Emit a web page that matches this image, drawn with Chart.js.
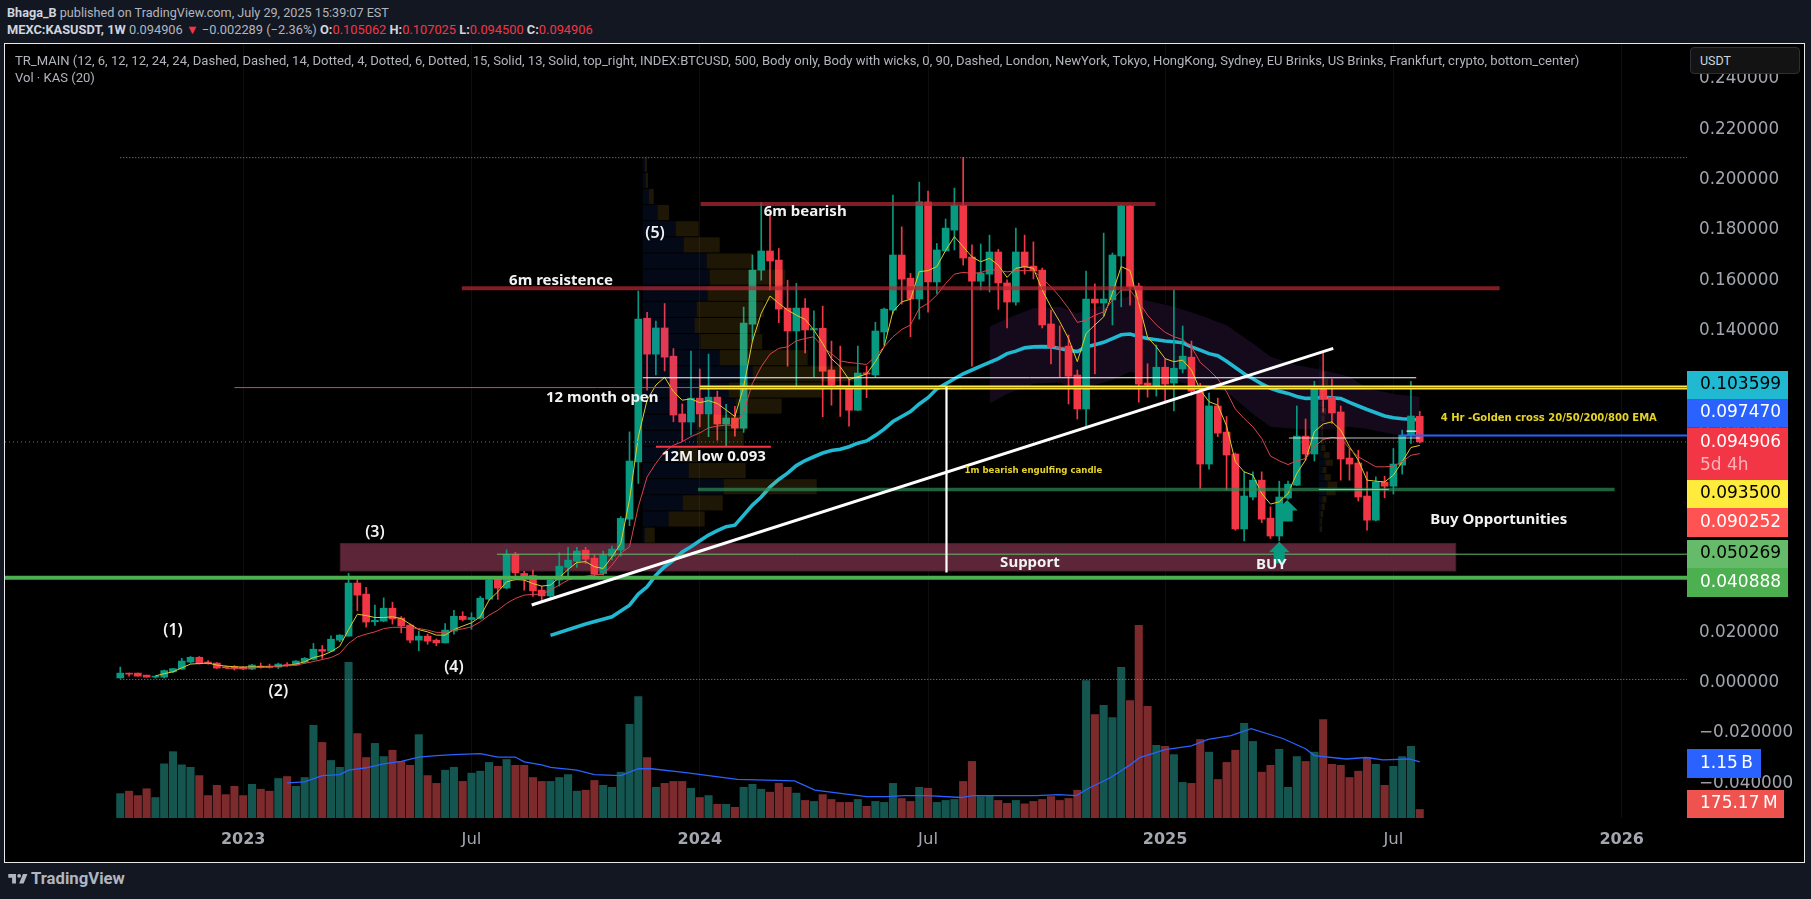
<!DOCTYPE html>
<html><head><meta charset="utf-8"><title>KASUSDT</title>
<script src="https://cdn.jsdelivr.net/npm/chart.js@4/dist/chart.umd.js"></script>
<style>
html,body{margin:0;padding:0;width:1811px;height:899px;overflow:hidden;background:#131722;font-family:Roboto,sans-serif}
#frame{position:absolute;left:4px;top:43px;width:1801px;height:820px;box-sizing:border-box;border:1px solid #e8e8e8;background:#000}
canvas{display:block}
.t{position:absolute;white-space:nowrap;color:#b2b5be;font-size:12.65px;line-height:16px}
.t b{font-weight:700;color:#d1d4dc}.r{color:#f23645}
#logo{position:absolute;left:7px;top:870px}
#brand{position:absolute;left:31px;top:870px;font:700 16.7px/18px Roboto,sans-serif;color:#b2b5be}
#unit{position:absolute;left:1690px;top:47px;width:110px;height:27px;box-sizing:border-box;border:1px solid #2a2e39;border-radius:4px;background:#131313;color:#d1d4dc;font:12.5px/25px Roboto,sans-serif;padding-left:9px}
</style></head><body>
<div id="frame"><canvas id="c" width="1799" height="818"></canvas></div>
<div class="t" style="left:7px;top:5px"><b>Bhaga_B</b> published on TradingView.com, July 29, 2025 15:39:07 EST</div>
<div class="t" style="left:7px;top:22px;font-size:12.83px"><b>MEXC:KASUSDT, 1W</b> 0.094906 <span class="r">▼</span> −0.002289 (−2.36%) <b>O:</b><span class="r">0.105062</span> <b>H:</b><span class="r">0.107025</span> <b>L:</b><span class="r">0.094500</span> <b>C:</b><span class="r">0.094906</span></div>
<div class="t" style="left:15px;top:53px;font-size:13.05px">TR_MAIN (12, 6, 12, 12, 24, 24, Dashed, Dashed, 14, Dotted, 4, Dotted, 6, Dotted, 15, Solid, 13, Solid, top_right, INDEX:BTCUSD, 500, Body only, Body with wicks, 0, 90, Dashed, London, NewYork, Tokyo, HongKong, Sydney, EU Brinks, US Brinks, Frankfurt, crypto, bottom_center)</div>
<div class="t" style="left:15px;top:70px;font-size:13.05px">Vol · KAS (20)</div>
<div id="unit">USDT</div>
<svg id="logo" width="23" height="18" viewBox="0 0 36 28"><path fill="#b2b5be" d="M14 6H2v6h6v9h6V6zm12 15h-7l6-15h7l-6 15zm-7-9a3 3 0 100-6 3 3 0 000 6z"/></svg>
<div id="brand">TradingView</div>
<script>
// Weekly bars, one per index; prices in thousandths of a USDT.
const MILLI = 0.001;
const opens = [1.1,3,3,2.2,1.4,1.4,3.5,4.6,7.4,9.3,7.4,7,5.5,5.6,5.4,4.6,5.8,5.8,5.4,6.4,6.2,7.4,8.5,12.4,11.7,16.1,17.7,38.8,34.4,23.4,23.7,28.8,24.9,22.1,16.1,17.7,16.1,15,19.7,25.6,24.3,24.8,32.4,40.6,36.8,50.2,42.6,41.8,36,33.7,40,45.1,47.5,51.9,48.7,42.6,49.5,51.9,64.2,87,144.1,129.8,140.2,129,106,102.8,112.3,106,112.7,102,104.4,100.4,141.7,163.2,170.8,167.2,148.1,139,148.1,139.4,140.1,123.5,117.2,117.1,107.5,122.4,121.5,138.6,147.3,169.2,160,151.7,190.3,158.5,170.8,179.1,189,168.4,158.8,161.6,170.4,158.1,150.5,170.4,164.8,163.2,141.8,132.6,133,121.5,108,151.7,150.1,151.3,168.8,188.7,156.9,118.3,117.1,124.6,118.3,123.9,128.6,114.7,86.1,109.2,98.8,90.1,60.3,73,79.7,64.6,57.5,72.6,77.7,97.2,90.1,115.9,112.7,106.8,88.5,86.5,73.4,63.8,78.9,77.3,85.7,97.6,105.062];
const highs = [5.4,3,3,2.2,1.8,4.2,4.8,8.9,9.6,9.6,8,7.2,5.8,6,5.6,6.5,7,6.6,7,7.2,8,9.2,14.8,14,17.8,18.3,42.7,40.2,37.1,30,32.9,31.2,25.5,22.5,19.7,18.5,16.6,22.7,28,27.4,27,33.5,41,41,52,51,43.5,44,37.5,41,50.8,53,53,53,50,51.5,53.5,65.2,98.9,154.9,146.4,142.9,149.9,132,110,131,123.9,129.8,115.1,109.8,109.1,148.5,169.2,190,185,171.8,159.2,157.9,151.9,147,148.9,135,133,119.7,133,125,142.5,148.1,193,180.4,161.9,198.2,194.6,173.8,183.5,195.8,208,173.2,173.6,177.1,171.5,159.3,179.9,177.1,174.4,164,147.3,141,137.4,123.5,162.8,157.7,177.9,170,189,189,158,126,133.4,127.8,155.3,141,135,118.2,114.3,112.3,105,90.5,83,83,83,69.1,79.3,79.3,109.2,104,119,130.1,119.9,109.2,92.3,91.6,83,81,81.3,92.3,99.6,119,107.025];
const lows = [0.9,1.8,1.8,1.4,1,1,3.2,4.4,7,6.6,6.6,4.9,5,4.2,4.4,4.4,5,5,4.8,5.7,6,7,8.2,8.8,11.5,15.5,17.7,27.8,21.3,22,23.4,22.5,19,15,11.9,14.5,13.9,15,18.5,23.8,20.4,24.5,32,32.3,36.5,40,36,33.5,31.5,32.5,37.6,41,45,46.5,41,42,48,49.5,61.6,78.4,115.5,121.5,123.1,102.9,95.2,97.6,100.9,97,95.6,93.4,97.2,98.7,135,159.2,155.3,142.3,125,116.8,130.3,120.8,104.9,109.5,105,101.2,107.3,112.5,120.8,133.4,146,149.7,136.7,143.7,146.5,153.9,170.8,171.2,165.2,125,155.3,154.5,147.6,140.2,149.3,161.6,159.7,140.2,125.9,120.8,110,104,101.2,121.9,145,141.4,148.6,149.3,110.7,112.7,113.1,111.2,107.2,122.3,113.5,76.4,84.1,97,75.8,59.8,55.6,71.8,62.8,56.5,55.6,72,77.5,87.7,87.3,106.8,102.3,79.7,79.7,71.4,59.8,63.5,72.7,74.2,82.1,94.3,94.5];
const closes = [3,2.6,1.8,1.4,1.8,4,4.8,7.8,9.3,6.8,6.8,5,5.1,5,4.6,6.2,5.2,5.2,6.6,5.9,7.8,8.9,12.5,11.7,16.5,18.1,38.8,34,23.3,24,28.8,24.5,21.7,16.1,17.7,15.7,15,20.1,25.6,24.3,25.1,32.8,40,36.8,50.2,42.9,41.3,35.7,33.7,40,45.5,47.9,51.5,48.3,42.3,49.9,52.3,64.5,87.3,143.7,129.8,140.2,128.6,105.6,102.8,112.3,106,112.7,102,104.4,100.4,142.1,163.2,170.8,166.8,147.7,139,148.1,139.4,140,123,117.5,116.2,107.5,122.3,121.9,139,147.7,169.2,159.6,151.7,190.3,158.5,171.2,179.9,189,168,158.8,162,170.4,158.1,150.5,170.4,164.4,162.9,141.4,132.6,132.2,121,108,151.7,150.1,151.7,169.2,188.7,156.5,117.9,117.5,124.6,117.9,124.2,129,115.1,86.1,109.2,98.4,89.7,60.3,73.4,79.7,64.2,57.5,73,78.1,97.2,90.1,115.9,111.9,106.4,88.1,86.1,73,63.8,78.9,77.3,86.1,97.6,105.2,94.906];
// Volume in billions of KAS
const volumes = [.5,.55,.46,.6,.42,1.11,1.36,1.09,1.04,.87,.46,.67,.48,.65,.46,.69,.59,.55,.81,.85,.65,.83,1.9,1.55,1.18,1.04,3.19,1.73,1.24,1.53,1.26,1.39,1.16,1.08,1.71,.87,.71,.98,1.04,.75,.92,.96,1.14,1.06,1.2,1.08,1.08,.83,.75,.75,.83,.89,.55,.57,.77,.67,.63,.94,1.92,2.49,1.24,.63,.71,.75,.75,.61,.42,.46,.28,.28,.22,.63,.69,.59,.53,.71,.63,.51,.36,.34,.48,.38,.32,.32,.38,.24,.34,.32,.71,.4,.34,.63,.61,.32,.36,.38,.75,1.16,.44,.46,.36,.3,.36,.29,.34,.38,.44,.36,.4,.57,2.82,2.12,2.31,2.06,3.09,2.41,3.95,2.29,1.49,1.47,1.3,.73,.71,1.61,1.35,.79,1.14,1.39,1.94,1.57,.94,1.08,1.41,.63,1.26,1.16,1.35,2.02,1.1,1.08,.83,.96,1.24,1.1,.67,1.06,1.26,1.47,.175];
const volMaIdx = [19,21,23,25,26,28,30,32,34,36,38,41,43,45,46,48,49,52,54,57,59,60.5,64.4,70.3,76.8,79.1,85,87.3,89.3,91.9,95.8,97.1,100.4,104.3,106.9,108.9,110.2,112.8,115.1,116.1,119,122,123.9,126.5,128.8,132.4,135,136,139.6,141.9,143.8,146.8,148];
const volMaVals = [.72,.74,.87,.89,.98,1.03,1.11,1.16,1.25,1.28,1.3,1.32,1.25,1.25,1.15,1.09,1.04,.98,.89,.87,1.01,1.01,.93,.79,.76,.57,.44,.44,.46,.46,.42,.46,.46,.46,.48,.46,.6,.83,1.1,1.24,1.4,1.48,1.61,1.69,1.83,1.63,1.42,1.28,1.21,1.24,1.19,1.21,1.15];
const emaFastStart = 4;
const emaFast = [1.9,2.8,3.5,5.1,6.6,6.8,7,6.2,5.8,5.5,5.4,5.5,5.5,5.6,5.8,6,6.6,7.5,9.2,10,11.5,13.7,20.3,26.4,25.9,25.1,25.1,25.4,24.7,22.5,20.3,19.4,18.1,18.1,20.3,21.7,23,25.4,32,35.3,39.3,40.2,40,38.6,37.6,38,41,44.2,47,47.3,45.3,44.6,49.2,54.5,72,97,111.5,117.5,120.6,114.9,111.5,112,110.5,111.3,110.2,107.6,105,116.8,135,146,152.9,150,147.3,145.3,143.6,139.4,134,128,124.8,119.7,120.8,121.9,126.8,132.8,146.7,150.6,151.6,162.6,163,164.6,171,176.5,172.5,168.5,166.5,167.9,165.2,160.3,163.9,164.6,163.9,155.3,148.6,142.7,136,126.8,138,141.4,144.6,154,164.6,163,150,136.5,132.7,128,126.8,127.4,123.5,115.5,110.9,109.5,101.3,87,83,81.7,74.4,70.2,71.1,74.4,82.4,87.7,99,102,102.9,99.6,93,87.7,79.7,79.3,79,81.7,87,92.7,93.5];
const emaSlowStart = 12;
const emaSlow = [4.8,4.7,4.9,5.1,5.3,5.5,5.8,6,6.2,6.9,7.6,8.4,9.2,10.8,14.8,17.4,18.5,19.4,20.7,21.2,21.2,21,20.7,20.1,19.2,19.2,20.1,20.6,21.4,23.4,26,28,30.7,32.7,34,34.3,34.4,36,38,40,41,41.5,42,42.3,45.9,50.6,53.2,69.1,81,86.4,91,93.6,95,97,98.5,100.5,101.2,101.6,101.5,106.9,118.2,124.8,129.8,132.1,132.7,135.1,136,136.7,132.7,130,127.1,126.5,126.1,125.7,128.8,132.8,136.7,139.6,141.4,148,150,153.3,157.9,161.6,162.3,161.9,162.2,163.5,163,162.5,163,163,163,160,156.6,152.6,148,142.4,143.3,145.3,146.6,151.3,155.3,155.3,150.6,145.3,141.4,138.5,136.7,135.6,132.7,126.5,123.5,120,114.8,108,104.2,100.9,96.3,89.3,87.4,85.9,87.4,88.3,93,95.9,96.7,96.3,92.3,89,87,85,85,85.3,87,89.6,90.252];
const emaLongIdx = [49,53,56,58,59,60,61,62,63,64,65,66,67,68,69,70,71,72,73,74,75,76,77,78,79,80,81,82,83,84,85,86,87,88,89,90,91,92,93,94,95,96,97,98,99,100,101,102,103,104,105,106,107,108,109,110,111,112,113,114,115,116,117,118,119,120,121,122,123,124,125,126,127,128,129,130,131,132,133,134,135,136,137,138,139,140,141,142,143,144,145,146,147,148];
const emaLong = [18,22.5,25.4,30,34.4,37.3,41.9,45.3,47.9,51.2,53.2,55.6,57.9,59.6,61.2,61.8,65.8,69.8,73,77,80,82.5,85.5,87.5,89,90.5,91.5,92,93,94.4,95.3,97.5,100,103,105,107,110,112.5,116,118,120,122,123.5,125,126.5,128,130,131,132.3,132.7,132.8,132.7,132,131.4,130.8,132.7,133.5,134.5,136,137.5,137.8,136.8,136,135.5,135,134.7,134.3,132.7,131.4,130,129.2,127,124.5,122,120,118,116.2,115,114.2,113,112.2,112.3,112.6,112.4,112.2,110.6,109.2,107.8,106.5,105.2,104.5,104.1,103.9,103.599];
const ribbonIdx = [99,101,104,107,109,113,115,117,120,123,126,129,131,134,137,140,142,145,148];
const ribbonUpper = [140.7,144,148,148.6,146,150.6,152.9,151,148.6,145.3,141.3,134,128.8,125.4,123.5,120.8,116.2,114,112.9];
const ribbonLower = [110.2,114,118,118.5,115.5,119.5,122.8,121,119,117,114.8,106,100.9,100,99.6,100.9,100,98,96.3];
// Volume profile rows, top to bottom: up and down volume expressed in bar widths
const profileLeft = 59.5, profileTop = 208.3, profileStep = 6.41;
const profileUp = [.26,.34,.72,1.71,3.76,4.67,7.29,7.63,7.4,6.15,5.92,6.56,8.77,12.53,9.79,10.59,6.15,6.15,4.1,5.24,9.23,4.56,2.96,.23];
const profileDown = [.23,.26,.54,1.29,2.62,4.1,5.24,8.61,8.2,7.63,7.4,7.06,10.02,11.96,10.59,5.24,5.69,5.35,2.16,6.49,10.59,4.56,4.1,1.14];
const recentLeft = 136.5, recentTop = 128.8, recentStep = 2.92;
const recentUp = [.38,.38,.38,.38,.3,.3,.3,.3,.3,.3,.3,.19,.3,.57,.76,.42,.65,.99,.87,.42,.34,.23,.19,.15];
const recentDown = [0,0,.38,.68,.19,.19,.3,.53,.38,.19,.19,.38,.46,.68,.84,.46,.72,1.14,1.06,.46,.34,.27,.19,.23];
// Price levels in thousandths of a USDT
const seriesHigh = 207.9, seriesLow = 0.48, lastClose = 94.906, emaLevel = 97.47;
const bearishLevel = 189.5, resistLevel = 156, yearOpenLevel = 116.5, whiteLevel = 120.4, supportLevel = 76;
const lowLevel = 93, greenThin = 50.269, greenThick = 40.888, zoneTop = 54.5, zoneBottom = 43.6;
const xTickValues = [14,40,66,92,119,145,171];
const xTickLabels = ['2023','Jul','2024','Jul','2025','Jul','2026'];
const noteTexts = ['(1)','(2)','(3)','(4)','(5)','6m bearish','6m resistence','12 month open','12M low 0.093','Support','BUY','Buy Opportunities','4 Hr -Golden cross 20/50/200/800 EMA','1m bearish engulfing candle'];
const noteIdx = [6,18,29,38,60.9,78,50.2,54.9,67.6,103.6,131.1,157,162.7,104];
const noteVals = [20.1,-4.2,58.8,5.1,177.9,186.4,158.8,112.4,88.9,46.9,45.9,63.8,104.4,83.3];
const noteKinds = ['p','p','p','p','p','w','w','w','w','w','w','w','y','s'];
const tagTexts = ['0.103599','0.097470','0.094906','5d 4h','0.093500','0.090252','0.050269','0.040888','1.15\u2009B','175.17\u2009M'];

const xMin=-13.13, xMax=178.44, yMin=-0.05459, yMax=0.25308, volMax=15.87;
const n = closes.length, P = v=>v*MILLI;
const UP='#089981', DN='#f23645';
const isUp = i=>closes[i]>=opens[i];
const wickData = opens.map((_,i)=>({x:i,y:[P(lows[i]),P(highs[i])]}));
const bodyData = opens.map((_,i)=>({x:i,y:[P(Math.min(opens[i],closes[i])),P(Math.max(opens[i],closes[i]))]}));
const seg=(x1,v1,x2,v2)=>[{x:x1,y:P(v1)},{x:x2,y:P(v2)}];
const line=(label,data,color,width,order,dash)=>({type:'line',label,data,borderColor:color,borderWidth:width,order,pointRadius:0,tension:0,borderDash:dash||[],fill:false,borderCapStyle:'butt',spanGaps:true});

const datasets=[
 {type:'bar',label:'Volume',yAxisID:'vol',order:30,grouped:false,barThickness:7.4,data:volumes.map((v,i)=>({x:i,y:v})),backgroundColor:volumes.map((_,i)=>isUp(i)?'#14554f':'#7d2a2d')},
 {...line('Volume MA',volMaIdx.map((x,i)=>({x,y:volMaVals[i]})),'#2962ff',1.3,29),yAxisID:'vol'},
 {...line('Ribbon upper',ribbonIdx.map((x,i)=>({x,y:P(ribbonUpper[i])})),'rgba(0,0,0,0)',0,28),fill:'+1',backgroundColor:'#140a1c'},
 line('Ribbon lower',ribbonIdx.map((x,i)=>({x,y:P(ribbonLower[i])})),'rgba(0,0,0,0)',0,27),
 line('EMA long',emaLongIdx.map((x,i)=>({x,y:P(emaLong[i])})),'#21b8d2',3.6,26),
 {type:'bar',label:'Wicks',order:25,grouped:false,barThickness:1,data:wickData,backgroundColor:opens.map((_,i)=>isUp(i)?UP:DN)},
 {type:'bar',label:'Bodies',order:24,grouped:false,barThickness:7,data:bodyData,backgroundColor:opens.map((_,i)=>isUp(i)?UP:DN)},
 line('EMA fast',emaFast.map((v,i)=>({x:i+emaFastStart,y:P(v)})),'#dccb28',1,21),
 line('EMA slow',emaSlow.map((v,i)=>({x:i+emaSlowStart,y:P(v)})),'#d8444c',1,20),
 line('Series high',seg(0,seriesHigh,xMax,seriesHigh),'#8a8d96',1,19,[1,2]),
 line('Series low',seg(0,seriesLow,xMax,seriesLow),'#8a8d96',1,19,[1,2]),
 line('Last close',seg(xMin,lastClose,xMax,lastClose),'#f23645',1,18,[1,3]),
 line('6m bearish',seg(66.1,bearishLevel,117.9,bearishLevel),'rgba(178,40,51,.72)',4,17),
 line('6m resistance',seg(38.9,resistLevel,157.1,resistLevel),'rgba(178,40,51,.72)',4,16),
 line('Support band',seg(65.8,supportLevel,170.2,supportLevel),'rgba(46,139,87,.7)',3.5,15),
 line('White level',seg(59.5,whiteLevel,147.6,whiteLevel),'#ffffff',1,14),
 line('Yellow level',seg(66,yearOpenLevel,xMax,yearOpenLevel),'#ffeb3b',4,13),
 line('Year open',seg(13,yearOpenLevel,xMax,yearOpenLevel),'#e0404a',1,12),
 line('12M low',seg(61,lowLevel,74.1,lowLevel),'#f23645',2,11),
 line('Green thin',seg(42.9,greenThin,xMax,greenThin),'#66bb6a',1,10),
 line('Green thick',seg(xMin,greenThick,xMax,greenThick),'#4caf50',4,9),
 line('Trend',seg(46.86,30.1,138.15,132.1),'#ffffff',3,8),
 line('Vertical',seg(94.1,116.7,94.1,43),'#ffffff',2.2,7),
 line('EMA level',seg(145.8,emaLevel,xMax,emaLevel),'#2962ff',2,6),
 line('Grey short',seg(133.1,96.5,148,96.5),'rgba(255,255,255,.38)',2,5),
 line('Light short',seg(136.5,supportLevel,144.5,supportLevel),'rgba(255,255,255,.55)',1,4),
 line('White short',seg(146.5,99.2,147.6,99.2),'#ffffff',1.2,3),
];

const DV='"DejaVu Sans",sans-serif', NS='"Noto Sans",sans-serif';
function drawProfile(c,xs,ys,left,top,step,up,down){
  const w1=xs.getPixelForValue(0)-xs.getPixelForValue(-1);
  const x0=xs.getPixelForValue(left);
  up.forEach((u,r)=>{
    const y0=ys.getPixelForValue(P(top-step*r)), y1=ys.getPixelForValue(P(top-step*(r+1)));
    c.fillStyle='rgba(41,98,255,.09)'; c.fillRect(x0,y0,u*w1,y1-y0-1);
    c.fillStyle='rgba(251,192,45,.12)'; c.fillRect(x0+u*w1,y0,down[r]*w1,y1-y0-1);
  });
}
function arrow(c,x,y){
  c.fillStyle=UP; c.beginPath();
  c.moveTo(x,y); c.lineTo(x+10.5,y+10.5); c.lineTo(x+5.5,y+10.5); c.lineTo(x+5.5,y+21.5); c.lineTo(x-5.5,y+21.5); c.lineTo(x-5.5,y+10.5); c.lineTo(x-10.5,y+10.5); c.closePath(); c.fill();
}
const overlay={id:'overlay',
 beforeDatasetsDraw(ch){
  const c=ch.ctx,xs=ch.scales.x,ys=ch.scales.y;
  const l=xs.getPixelForValue(25.06),r=xs.getPixelForValue(152.1),t=ys.getPixelForValue(P(zoneTop)),b=ys.getPixelForValue(P(zoneBottom));
  c.save(); c.fillStyle='#5c2638'; c.fillRect(l,t,r-l,b-t); c.strokeStyle='#4a1c2c'; c.lineWidth=1; c.strokeRect(l,t,r-l,b-t); c.restore();
 },
 afterDatasetDraw(ch,args){
  if(ch.data.datasets[args.index].label!=='Bodies')return;
  const c=ch.ctx,xs=ch.scales.x,ys=ch.scales.y;
  c.save();
  drawProfile(c,xs,ys,profileLeft,profileTop,profileStep,profileUp,profileDown);
  drawProfile(c,xs,ys,recentLeft,recentTop,recentStep,recentUp,recentDown);
  c.restore();
 },
 afterDatasetsDraw(ch){
  const c=ch.ctx,xs=ch.scales.x,ys=ch.scales.y;
  c.save();
  arrow(c,xs.getPixelForValue(132),ys.getPixelForValue(P(55.2)));
  arrow(c,xs.getPixelForValue(132.9),ys.getPixelForValue(P(71.8)));
  c.textAlign='center'; c.textBaseline='middle';
  noteTexts.forEach((s,i)=>{
    const k=noteKinds[i];
    c.font=k==='p'?'600 16px '+NS:k==='w'?'bold 15px '+NS:k==='y'?'bold 10px '+DV:'bold 8.6px '+DV;
    c.fillStyle=(k==='w'||k==='p')?'#f2f2f2':'#e6d32a';
    c.fillText(s,xs.getPixelForValue(noteIdx[i]),ys.getPixelForValue(P(noteVals[i])));
  });
  c.restore();
 },
 afterDraw(ch){
  const c=ch.ctx; const ox=5, oy=44;
  const box=[[371,399,1788,'#21b8d2'],[399,427.7,1788,'#2962ff'],[427.7,480,1788,'#f23645'],[480,508,1788,'#ffeb3b'],[508,537,1788,'#ff5252'],[540,568,1788,'#66bb6a'],[568,597,1788,'#4caf50'],[749,778,1761,'#2962ff'],[790,818,1784,'#ef5350']];
  const txt=[[385,'#000'],[413,'#fff'],[442.7,'#fff'],[466,'#ffb3b9'],[494,'#000'],[522.7,'#fff'],[554,'#000'],[582.5,'#fff'],[763.5,'#fff'],[804,'#fff']];
  c.save();
  box.forEach(b=>{c.fillStyle=b[3];c.fillRect(1687-ox,b[0]-oy,b[2]-1687,b[1]-b[0]);});
  c.font='17px '+DV; c.textAlign='left'; c.textBaseline='middle';
  tagTexts.forEach((s,i)=>{c.fillStyle=txt[i][1];c.fillText(s,1700-ox,txt[i][0]-oy);});
  c.restore();
 }
};

new Chart(document.getElementById('c'),{
 type:'bar',
 data:{datasets},
 plugins:[overlay],
 options:{
  responsive:false,animation:false,devicePixelRatio:1,
  layout:{padding:0},
  plugins:{legend:{display:false},tooltip:{enabled:false}},
  scales:{
   x:{type:'linear',min:xMin,max:xMax,offset:false,
    grid:{color:'rgba(255,255,255,.05)',drawTicks:false,offset:false},border:{display:false},
    afterBuildTicks(s){s.ticks=xTickValues.map(value=>({value}));},
    afterFit(s){s.height=44;s.paddingLeft=s.paddingRight=s.paddingTop=s.paddingBottom=0;},
    ticks:{autoSkip:false,maxRotation:0,minRotation:0,padding:12,color:'#a3a6af',
     font:c=>{const k=xTickValues.indexOf(c.tick&&c.tick.value);const yr=k>=0&&xTickLabels[k]!=='Jul';return {family:'"DejaVu Sans",sans-serif',size:yr?16:16.5,weight:yr?'bold':'normal'};},
     callback:v=>{const k=xTickValues.indexOf(v);return k<0?'':xTickLabels[k];}}},
   y:{type:'linear',position:'right',min:yMin,max:yMax,
    grid:{display:false,drawTicks:false},border:{display:false},
    afterFit(s){s.width=117;s.paddingLeft=s.paddingRight=s.paddingTop=s.paddingBottom=0;},
    ticks:{stepSize:0.02,includeBounds:false,padding:12,labelOffset:2,color:'#a3a6af',font:{family:'"DejaVu Sans",sans-serif',size:16.8},
     callback:v=>{if(Math.abs(v)<1e-9)return '0.000000';return (v<0?'−':'')+Math.abs(v).toFixed(6);}}},
   vol:{type:'linear',display:false,min:0,max:volMax}
  }
 }
});
</script>
</body></html>
